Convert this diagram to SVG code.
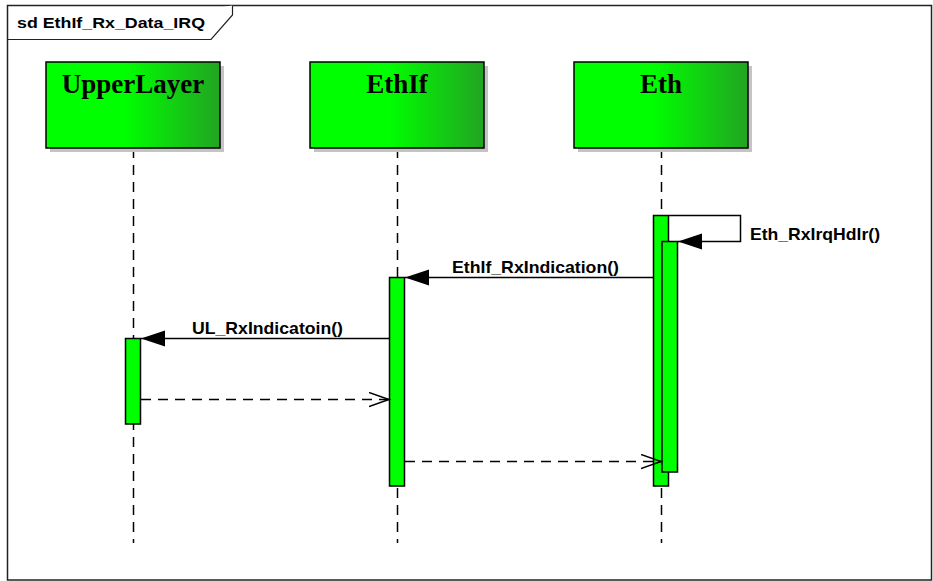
<svg xmlns="http://www.w3.org/2000/svg" width="933" height="581" viewBox="0 0 933 581">
  <style>
    .frame { fill: #ffffff; stroke: #222222; stroke-width: 1.5; }
    .tab { fill: #ffffff; stroke: #222222; stroke-width: 1.2; }
    .title { font-family: "Liberation Sans", Arial, sans-serif; font-weight: bold; font-size: 15px; fill: #000; }
    .head { fill: url(#headFill); stroke: #000; stroke-width: 1.5; }
    .shadow { fill: #c4c4c4; }
    .headText { font-family: "Liberation Serif", "Times New Roman", serif; font-weight: bold; font-size: 27px; fill: #000; text-anchor: middle; }
    .life { stroke: #000; stroke-width: 1.5; stroke-dasharray: 10 7; fill: none; }
    .act { fill: #00ff00; stroke: #000; stroke-width: 1.5; }
    .call { stroke: #000; stroke-width: 1.5; fill: none; marker-end: url(#filled); }
    .ret { stroke: #000; stroke-width: 1.5; fill: none; stroke-dasharray: 10 7; marker-end: url(#open); }
    .label { font-family: "Liberation Sans", Arial, sans-serif; font-weight: bold; font-size: 17px; fill: #000; }
  </style>
  <defs>
    <linearGradient id="headFill" x1="0" y1="0" x2="1" y2="0">
      <stop offset="0" stop-color="#00ff00"/>
      <stop offset="0.45" stop-color="#00ff00"/>
      <stop offset="1" stop-color="#22a422"/>
    </linearGradient>
    <marker id="filled" markerUnits="userSpaceOnUse" markerWidth="26" markerHeight="18" refX="24" refY="8" orient="auto">
      <path d="M0,0 L24,8 L0,16 Z" fill="#000"/>
    </marker>
    <marker id="open" markerUnits="userSpaceOnUse" markerWidth="24" markerHeight="18" refX="20" refY="8" orient="auto">
      <path d="M0,1 L20,8 L0,15" fill="none" stroke="#000" stroke-width="1.5"/>
    </marker>
  </defs>

  <!-- sequence diagram frame and name tab -->
  <rect class="frame" x="7.5" y="5.5" width="924" height="574.5"/>
  <path class="tab" d="M7.5,39.5 L211,39.5 L232.5,15 L232.5,5.5"/>
  <text class="title" x="17" y="28" textLength="188" lengthAdjust="spacingAndGlyphs">sd EthIf_Rx_Data_IRQ</text>

  <!-- lifeline stems -->
  <g id="lifelines">
    <line class="life" x1="133.5" y1="148" x2="133.5" y2="543"/>
    <line class="life" x1="397.5" y1="148" x2="397.5" y2="543"/>
    <line class="life" x1="661.5" y1="148" x2="661.5" y2="543"/>
  </g>

  <g id="UpperLayer">
    <rect class="shadow" x="50" y="66" width="174" height="86"/>
    <rect class="head" x="46" y="62" width="174" height="86"/>
    <text class="headText" x="133" y="93">UpperLayer</text>
    <rect class="act" x="125.5" y="338.5" width="15" height="85.5"/>
  </g>

  <g id="EthIf">
    <rect class="shadow" x="314" y="66" width="174" height="86"/>
    <rect class="head" x="310" y="62" width="174" height="86"/>
    <text class="headText" x="397" y="93">EthIf</text>
    <rect class="act" x="389.5" y="277.5" width="15" height="208.5"/>
  </g>

  <g id="Eth">
    <rect class="shadow" x="578" y="66" width="174" height="86"/>
    <rect class="head" x="574" y="62" width="174" height="86"/>
    <text class="headText" x="661" y="93">Eth</text>
    <rect class="act" x="653.5" y="215.5" width="15" height="270.5"/>
    <rect class="act" x="662" y="241.5" width="15.5" height="230.5"/>
  </g>

  <!-- messages -->
  <g id="connectors">
    <path class="call" d="M669,215.5 L740.5,215.5 L740.5,241.5 L678,241.5"/>
    <text class="label" x="750" y="240" textLength="130" lengthAdjust="spacingAndGlyphs">Eth_RxIrqHdlr()</text>

    <path class="call" d="M653,277.5 L405,277.5"/>
    <text class="label" x="452" y="273" textLength="167" lengthAdjust="spacingAndGlyphs">EthIf_RxIndication()</text>

    <path class="call" d="M389,338.5 L141,338.5"/>
    <text class="label" x="192" y="334" textLength="151" lengthAdjust="spacingAndGlyphs">UL_RxIndicatoin()</text>

    <path class="ret" d="M141,399.5 L389,399.5"/>
    <path class="ret" d="M405,461.5 L661,461.5"/>
  </g>
</svg>
